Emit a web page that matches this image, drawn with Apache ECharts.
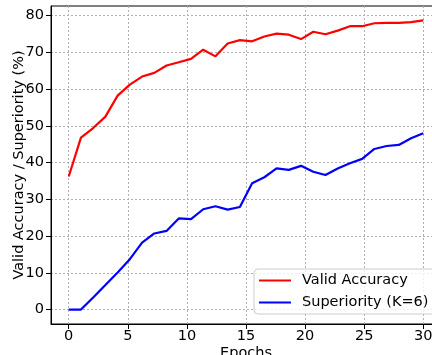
<!DOCTYPE html>
<html>
<head>
<meta charset="utf-8">
<script src="https://cdn.jsdelivr.net/npm/echarts@6/dist/echarts.min.js"></script>
<style>
  html, body { margin: 0; padding: 0; background: #fff; }
  #chart { width: 432px; height: 355px; }
</style>
</head>
<body>
<div id="chart"></div>
<script>
// 30 evaluation points spread evenly over 0..30 epochs
var epochs = [0, 1.034, 2.069, 3.103, 4.138, 5.172, 6.207, 7.241, 8.276, 9.31,
  10.345, 11.379, 12.414, 13.448, 14.483, 15.517, 16.552, 17.586, 18.621, 19.655,
  20.69, 21.724, 22.759, 23.793, 24.828, 25.862, 26.897, 27.931, 28.966, 30];
var validAccuracy = [36.2, 46.8, 49.4, 52.5, 58.2, 61.2, 63.4, 64.4, 66.4, 67.3,
  68.2, 70.7, 68.9, 72.4, 73.3, 73.0, 74.3, 75.1, 74.8, 73.6,
  75.6, 74.9, 75.9, 77.1, 77.1, 77.9, 78.0, 78.0, 78.2, 78.7];
var superiority = [0, 0, 3.3, 6.7, 10.1, 13.7, 18.2, 20.7, 21.4, 24.8,
  24.6, 27.3, 28.1, 27.2, 27.9, 34.4, 36.0, 38.4, 38.0, 39.1,
  37.5, 36.6, 38.4, 39.8, 41.0, 43.7, 44.5, 44.8, 46.6, 48.0];
var xTicks = [0, 5, 10, 15, 20, 25, 30];
var yTicks = [0, 10, 20, 30, 40, 50, 60, 70, 80];
var seriesNames = ["Valid Accuracy", "Superiority (K=6)"];

function pairs(xs, ys) {
  return ys.map(function (y, i) { return [xs[i], y]; });
}

var font = "DejaVu Sans";
var chart = echarts.init(document.getElementById("chart"), null, { renderer: "canvas" });

var option = {
  animation: false,
  textStyle: { fontFamily: font },
  grid: {
    left: 51, top: 6, right: -9, bottom: 31,
    outerBoundsMode: "none",
    containLabel: false,
    show: true, borderColor: "#000", borderWidth: 1, backgroundColor: "transparent"
  },
  legend: {
    orient: "vertical",
    left: 254, top: 269,
    icon: "rect",
    itemWidth: 32, itemHeight: 2, itemGap: 7,
    padding: [4, 30, 4, 5],
    borderColor: "#cccccc", borderWidth: 1, borderRadius: 4,
    backgroundColor: "rgba(255,255,255,0.8)",
    textStyle: { fontSize: 14.5, color: "#000", fontFamily: font, padding: [0, 0, 0, 6] },
    data: seriesNames
  },
  xAxis: {
    type: "value",
    min: -1.5, max: 31.5,
    name: "Epochs",
    nameLocation: "middle",
    nameGap: 22,
    nameMoveOverlap: false,
    nameTextStyle: { fontSize: 14.5, color: "#000", fontFamily: font },
    axisLine: { show: true, onZero: false, lineStyle: { color: "#000", width: 1 } },
    axisTick: { show: true, inside: false, length: 5, customValues: xTicks, lineStyle: { color: "#000" } },
    axisLabel: { customValues: xTicks, fontSize: 14.5, color: "#000", margin: 5, fontFamily: font },
    splitLine: { show: true, lineStyle: { color: "#b0b0b0", type: [2, 2], width: 1 } }
  },
  yAxis: {
    type: "value",
    min: -3.93, max: 82.6,
    name: "Valid Accuracy / Superiority (%)",
    nameLocation: "middle",
    nameGap: 24,
    nameMoveOverlap: false,
    nameTextStyle: { fontSize: 14.5, color: "#000", fontFamily: font },
    axisLine: { show: true, onZero: false, lineStyle: { color: "#000", width: 1 } },
    axisTick: { show: true, inside: false, length: 5, customValues: yTicks, lineStyle: { color: "#000" } },
    axisLabel: { customValues: yTicks, fontSize: 14.5, color: "#000", margin: 7, fontFamily: font },
    splitLine: { show: true, lineStyle: { color: "#b0b0b0", type: [2, 2], width: 1 } }
  },
  series: [
    {
      name: seriesNames[0],
      type: "line",
      data: pairs(epochs, validAccuracy),
      symbol: "none",
      lineStyle: { color: "#ff0000", width: 2.2 },
      itemStyle: { color: "#ff0000" }
    },
    {
      name: seriesNames[1],
      type: "line",
      data: pairs(epochs, superiority),
      symbol: "none",
      lineStyle: { color: "#0000ff", width: 2.2 },
      itemStyle: { color: "#0000ff" }
    }
  ]
};

chart.setOption(option);
window.addEventListener("resize", function () {
  chart.resize();
});
</script>
</body>
</html>
